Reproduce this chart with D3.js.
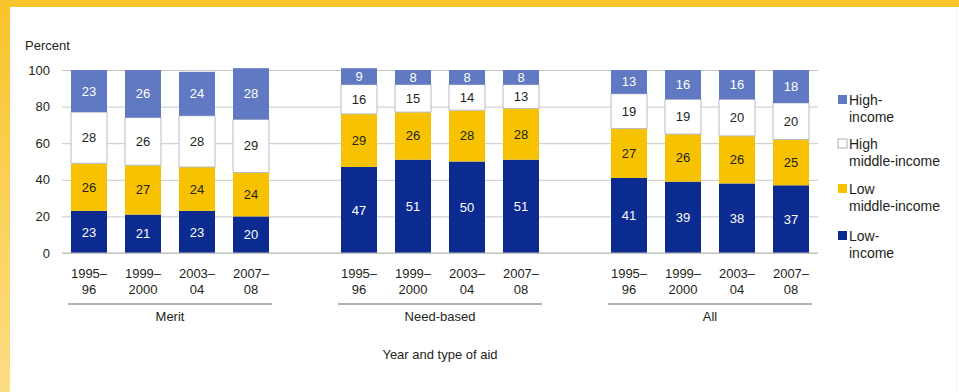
<!DOCTYPE html>
<html>
<head>
<meta charset="utf-8">
<script src="https://cdn.jsdelivr.net/npm/d3@7"></script>
<style>
  html, body { margin: 0; padding: 0; background: #fff; }
  svg { display: block; }
  text { font-family: "Liberation Sans", Arial, sans-serif; fill: #231f20; }
</style>
</head>
<body>
<svg id="chart" width="959" height="392"></svg>
<script>
// Income groups (stack order, bottom to top)
const incomeGroups = ["Low-income", "Low middle-income", "High middle-income", "High-income"];
const aidTypes = ["Merit", "Need-based", "All"];
const years = ["1995–96", "1999–2000", "2003–04", "2007–08"];
const yearLines = [["1995–", "96"], ["1999–", "2000"], ["2003–", "04"], ["2007–", "08"]];
const yTicks = [0, 20, 40, 60, 80, 100];

// Percent of aid recipients by income group, per aid type and year
const lowIncome = {
  "Merit": [23, 21, 23, 20],
  "Need-based": [47, 51, 50, 51],
  "All": [41, 39, 38, 37]
};
const lowMiddleIncome = {
  "Merit": [26, 27, 24, 24],
  "Need-based": [29, 26, 28, 28],
  "All": [27, 26, 26, 25]
};
const highMiddleIncome = {
  "Merit": [28, 26, 28, 29],
  "Need-based": [16, 15, 14, 13],
  "All": [19, 19, 20, 20]
};
const highIncome = {
  "Merit": [23, 26, 24, 28],
  "Need-based": [9, 8, 8, 8],
  "All": [13, 16, 16, 18]
};

const seriesByGroup = {
  "Low-income": lowIncome,
  "Low middle-income": lowMiddleIncome,
  "High middle-income": highMiddleIncome,
  "High-income": highIncome
};

const fillColor = {
  "Low-income": "#0b2b91",
  "Low middle-income": "#f7c300",
  "High middle-income": "#ffffff",
  "High-income": "#6079c2"
};
const labelColor = {
  "Low-income": "#ffffff",
  "Low middle-income": "#231f20",
  "High middle-income": "#231f20",
  "High-income": "#ffffff"
};

const svg = d3.select("#chart");

// Page frame: yellow band on top, fading yellow strip on the left
const defs = svg.append("defs");
const grad = defs.append("linearGradient").attr("id", "leftStrip")
  .attr("x1", 0).attr("y1", 0).attr("x2", 0).attr("y2", 1);
grad.append("stop").attr("offset", 0).attr("stop-color", "#f8c42a");
grad.append("stop").attr("offset", 1).attr("stop-color", "#fddd85");
svg.append("rect").attr("x", 0).attr("y", 0).attr("width", 959).attr("height", 7).attr("fill", "#f9c52b");
svg.append("rect").attr("x", 0).attr("y", 0).attr("width", 10).attr("height", 392).attr("fill", "url(#leftStrip)");
svg.append("rect").attr("x", 956).attr("y", 7).attr("width", 1).attr("height", 385).attr("fill", "#fbf3dc");

// Scales
const y = d3.scaleLinear().domain([0, 100]).range([253, 70]);
const xGroup = d3.scaleBand().domain(aidTypes).range([71, 809]).paddingInner(72 / 270);
const xYear = d3.scaleBand().domain(years).range([0, xGroup.bandwidth()]).paddingInner(1 / 3);

// Gridlines and y axis labels
const yAxis = d3.axisLeft(y).tickValues(yTicks).tickSize(-(818 - 62)).tickPadding(12);
const gAxis = svg.append("g").attr("transform", "translate(62,0)").call(yAxis);
gAxis.select(".domain").remove();
gAxis.selectAll(".tick line").attr("stroke", "#c8c8c8").attr("stroke-width", 1);
gAxis.selectAll(".tick text")
  .style("font-family", "'Liberation Sans', Arial, sans-serif")
  .style("font-size", "13px")
  .attr("fill", "#231f20")
  .attr("x", -12);

svg.append("text").attr("x", 25).attr("y", 50).style("font-size", "13px").text("Percent");

// Stacked bars
aidTypes.forEach(type => {
  const g = svg.append("g").attr("transform", `translate(${xGroup(type)},0)`);
  years.forEach((yr, i) => {
    let base = 0;
    incomeGroups.forEach(grp => {
      const v = seriesByGroup[grp][type][i];
      const y0 = y(base), y1 = y(base + v);
      g.append("rect")
        .attr("x", xYear(yr))
        .attr("y", y1)
        .attr("width", xYear.bandwidth())
        .attr("height", y0 - y1)
        .attr("fill", fillColor[grp])
        .attr("stroke", grp === "High middle-income" ? "#b9bcc6" : "none")
        .attr("stroke-width", 1);
      g.append("text")
        .attr("x", xYear(yr) + xYear.bandwidth() / 2)
        .attr("y", (y0 + y1) / 2)
        .attr("dy", "0.35em")
        .attr("text-anchor", "middle")
        .style("font-size", "13px")
        .style("fill", labelColor[grp])
        .text(v);
      base += v;
    });
    // Year labels under each bar
    const cx = xYear(yr) + xYear.bandwidth() / 2;
    g.append("text").attr("x", cx).attr("y", 278)
      .attr("text-anchor", "middle").style("font-size", "13px").text(yearLines[i][0]);
    g.append("text").attr("x", cx).attr("y", 294)
      .attr("text-anchor", "middle").style("font-size", "13px").text(yearLines[i][1]);
  });
  // Group underline and label
  g.append("line")
    .attr("x1", -3).attr("x2", xGroup.bandwidth() + 3)
    .attr("y1", 304).attr("y2", 304)
    .attr("stroke", "#9a9a9a").attr("stroke-width", 1.5);
  g.append("text")
    .attr("x", xGroup.bandwidth() / 2)
    .attr("y", 321)
    .attr("text-anchor", "middle")
    .style("font-size", "13px")
    .text(type);
});

// Baseline at zero
svg.append("line").attr("x1", 62).attr("x2", 818).attr("y1", y(0)).attr("y2", y(0))
  .attr("stroke", "#bdbdbd").attr("stroke-width", 1);

// Axis title
svg.append("text")
  .attr("x", xGroup("Need-based") + xGroup.bandwidth() / 2)
  .attr("y", 359)
  .attr("text-anchor", "middle")
  .style("font-size", "13px")
  .text("Year and type of aid");

// Legend (top to bottom: high-income first)
const legendItems = [
  { key: "High-income", lines: ["High-", "income"], y: 100 },
  { key: "High middle-income", lines: ["High", "middle-income"], y: 144 },
  { key: "Low middle-income", lines: ["Low", "middle-income"], y: 189 },
  { key: "Low-income", lines: ["Low-", "income"], y: 236 }
];
const legend = svg.append("g");
legendItems.forEach(item => {
  legend.append("rect")
    .attr("x", 838).attr("y", item.y - 5)
    .attr("width", 9).attr("height", 9)
    .attr("fill", fillColor[item.key])
    .attr("stroke", item.key === "High middle-income" ? "#9a9a9a" : "none")
    .attr("stroke-width", 0.8);
  legend.append("text").attr("x", 849).attr("y", item.y + 5)
    .style("font-size", "14px").text(item.lines[0]);
  legend.append("text").attr("x", 849).attr("y", item.y + 22)
    .style("font-size", "14px").text(item.lines[1]);
});
</script>
</body>
</html>
